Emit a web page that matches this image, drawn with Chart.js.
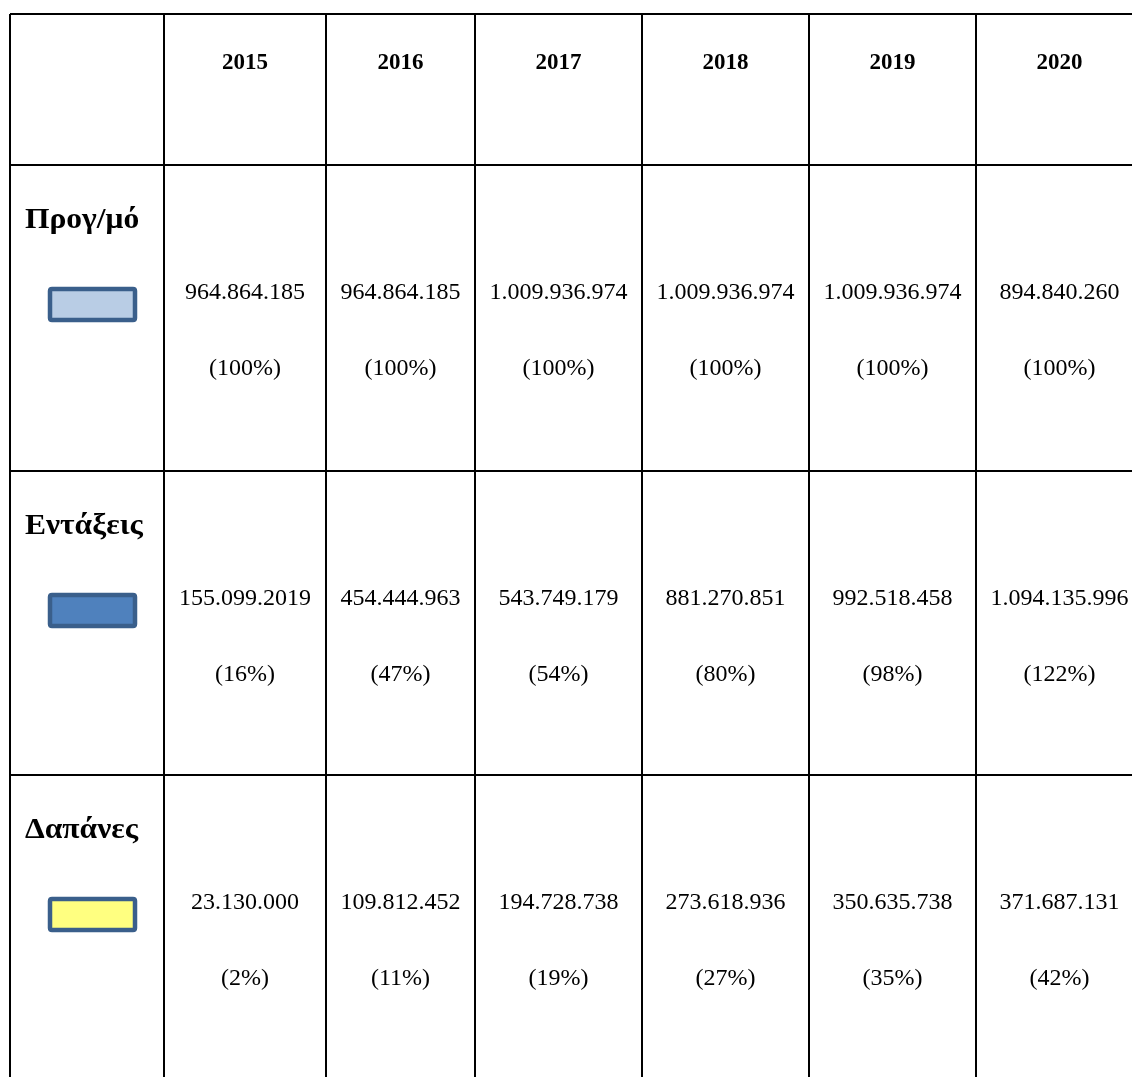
<!DOCTYPE html>
<html lang="el">
<head>
<meta charset="utf-8">
<title>Προγραμματισμός, Εντάξεις, Δαπάνες 2015-2020</title>
<script src="https://cdn.jsdelivr.net/npm/chart.js@4.4.1/dist/chart.umd.min.js"></script>
<style>
  html, body { margin: 0; padding: 0; background: #fff; }
  #wrap { width: 1132px; height: 1077px; }
</style>
</head>
<body>
<div id="wrap"><canvas id="tabla" width="1132" height="1077"></canvas></div>
<script>
// Datos de la tabla
const years = ['2015', '2016', '2017', '2018', '2019', '2020'];
const rowLabels = ['Προγ/μό', 'Εντάξεις', 'Δαπάνες'];

const budget = ['964.864.185', '964.864.185', '1.009.936.974', '1.009.936.974', '1.009.936.974', '894.840.260'];
const budgetPct = [100, 100, 100, 100, 100, 100];

const inclusions = ['155.099.2019', '454.444.963', '543.749.179', '881.270.851', '992.518.458', '1.094.135.996'];
const inclusionPct = [16, 47, 54, 80, 98, 122];

const spending = ['23.130.000', '109.812.452', '194.728.738', '273.618.936', '350.635.738', '371.687.131'];
const spendingPct = [2, 11, 19, 27, 35, 42];

const rowValues = [budget, inclusions, spending];
const rowPcts = [budgetPct, inclusionPct, spendingPct];

// Estilos de cada fila (muestra de color)
const swatchFill = ['#b9cde5', '#4f81bd', '#ffff80'];
const swatchBorder = '#3a5f8b';

// Rejilla (unidades de las escalas)
const colEdges = [10, 164, 326, 475, 642, 809, 976, 1143];
const rowEdges = [14, 165, 471, 775, 1079];

const serif = '"Liberation Serif", "Times New Roman", serif';

function roundRect(ctx, x, y, w, h, r) {
    ctx.beginPath();
    ctx.moveTo(x + r, y);
    ctx.lineTo(x + w - r, y);
    ctx.quadraticCurveTo(x + w, y, x + w, y + r);
    ctx.lineTo(x + w, y + h - r);
    ctx.quadraticCurveTo(x + w, y + h, x + w - r, y + h);
    ctx.lineTo(x + r, y + h);
    ctx.quadraticCurveTo(x, y + h, x, y + h - r);
    ctx.lineTo(x, y + r);
    ctx.quadraticCurveTo(x, y, x + r, y);
    ctx.closePath();
}

// Plugin que escribe el contenido de cada celda
const tablaPlugin = {
    id: 'tablaCeldas',
    afterDraw(chart) {
        const ctx = chart.ctx;
        const xs = chart.scales.x;
        const ys = chart.scales.y;
        const colCenter = i => xs.getPixelForValue((colEdges[i] + colEdges[i + 1]) / 2);

        ctx.save();
        ctx.fillStyle = '#000';
        ctx.textAlign = 'center';
        ctx.textBaseline = 'alphabetic';

        // Cabecera con los años
        ctx.font = 'bold 23px ' + serif;
        years.forEach((year, i) => {
            ctx.fillText(year, colCenter(i + 1), ys.getPixelForValue(69));
        });

        rowLabels.forEach((label, r) => {
            const top = rowEdges[r + 1];

            // Etiqueta de la fila (algo más ancha, como en el original)
            ctx.save();
            ctx.textAlign = 'left';
            ctx.font = 'bold 30px ' + serif;
            ctx.translate(xs.getPixelForValue(25), ys.getPixelForValue(top + 63));
            ctx.scale(1.05, 1);
            ctx.fillText(label, 0, 0);
            ctx.restore();

            // Muestra de color
            const sx = xs.getPixelForValue(50);
            const sy = ys.getPixelForValue(top + 124);
            const sw = xs.getPixelForValue(135) - sx;
            const sh = ys.getPixelForValue(top + 155) - sy;
            roundRect(ctx, sx, sy, sw, sh, 2);
            ctx.fillStyle = swatchFill[r];
            ctx.fill();
            ctx.lineWidth = 4.5;
            ctx.strokeStyle = swatchBorder;
            ctx.stroke();

            // Valores y porcentajes
            ctx.fillStyle = '#000';
            ctx.textAlign = 'center';
            ctx.font = '24px ' + serif;
            rowValues[r].forEach((v, i) => {
                const cx = colCenter(i + 1);
                ctx.fillText(v, cx, ys.getPixelForValue(top + 134));
                ctx.fillText('(' + rowPcts[r][i] + '%)', cx, ys.getPixelForValue(top + 210));
            });
        });
        ctx.restore();
    }
};

const ctx = document.getElementById('tabla');

new Chart(ctx, {
    type: 'scatter',
    data: { datasets: [] },
    options: {
        responsive: false,
        animation: false,
        devicePixelRatio: 1,
        layout: { padding: { left: 10, top: 14, right: 0, bottom: 0 } },
        plugins: {
            legend: { display: false },
            tooltip: { enabled: false },
            title: { display: false }
        },
        scales: {
            x: {
                type: 'linear',
                min: 10,
                max: 1132,
                afterBuildTicks: axis => {
                    axis.ticks = colEdges.slice(0, 7).map(v => ({ value: v }));
                },
                ticks: { display: false },
                border: { display: false },
                grid: { color: '#000', lineWidth: 2, drawTicks: false }
            },
            y: {
                type: 'linear',
                reverse: true,
                min: 14,
                max: 1077,
                afterBuildTicks: axis => {
                    axis.ticks = rowEdges.slice(0, 4).map(v => ({ value: v }));
                },
                ticks: { display: false },
                border: { display: false },
                grid: { color: '#000', lineWidth: 2, drawTicks: false }
            }
        }
    },
    plugins: [tablaPlugin]
});
</script>
</body>
</html>
